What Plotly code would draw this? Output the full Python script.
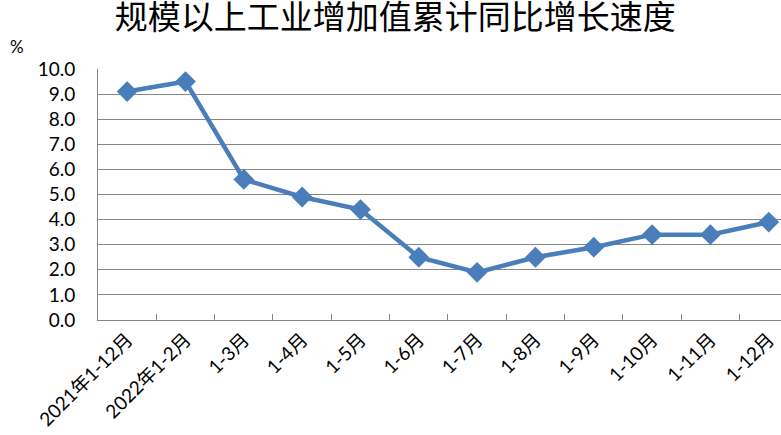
import plotly.graph_objects as go

categories = ["2021年1-12月", "2022年1-2月", "1-3月", "1-4月", "1-5月", "1-6月",
              "1-7月", "1-8月", "1-9月", "1-10月", "1-11月", "1-12月"]
growth = [9.1, 9.5, 5.6, 4.9, 4.4, 2.5, 1.9, 2.5, 2.9, 3.4, 3.4, 3.9]
y_ticks = [0, 1, 2, 3, 4, 5, 6, 7, 8, 9, 10]
y_tick_labels = [f"{v:.1f}" for v in y_ticks]
title_text = "规模以上工业增加值累计同比增长速度"

fig = go.Figure()
fig.add_trace(go.Scatter(
    x=categories, y=growth, mode="lines+markers",
    line=dict(color="#4A7EBB", width=4.5),
    marker=dict(symbol="diamond", size=16, color="#4A7EBB"),
))

fig.update_layout(
    width=781, height=435,
    margin=dict(l=98, r=0, t=69, b=115, autoexpand=False),
    paper_bgcolor="white", plot_bgcolor="white",
    showlegend=False,
    title=dict(text=title_text, x=0.506, xanchor="center", y=1 - 17 / 435, yanchor="middle",
               font=dict(family="Noto Sans CJK SC", size=33, color="black")),
    font=dict(family="Lato, Noto Sans CJK SC", color="black"),
)
fig.update_xaxes(
    type="category", range=[-0.5, 11.21], automargin=False,
    tickangle=-45, tickfont=dict(size=19, family="Lato, Noto Sans CJK SC"),
    showline=True, linecolor="#868686", linewidth=1,
    ticks="inside", tickson="boundaries", ticklen=6, tickcolor="#868686",
    showgrid=False, zeroline=False,
)
fig.update_yaxes(
    range=[0, 10], tickvals=y_ticks, ticktext=y_tick_labels, automargin=False,
    tickfont=dict(size=19, family="Lato"),
    showline=True, linecolor="#868686", linewidth=1,
    showgrid=True, gridcolor="#868686", gridwidth=1,
    zeroline=False, ticks="", ticklabelstandoff=18,
)
fig.add_annotation(text="%", xref="paper", yref="paper", x=-0.132, y=1.09,
                   xanchor="left", yanchor="middle", showarrow=False,
                   font=dict(size=17, family="Lato", color="black"))

fig.write_html("out.html", config={"displayModeBar": False},
               post_script="document.body.style.margin='0';")
